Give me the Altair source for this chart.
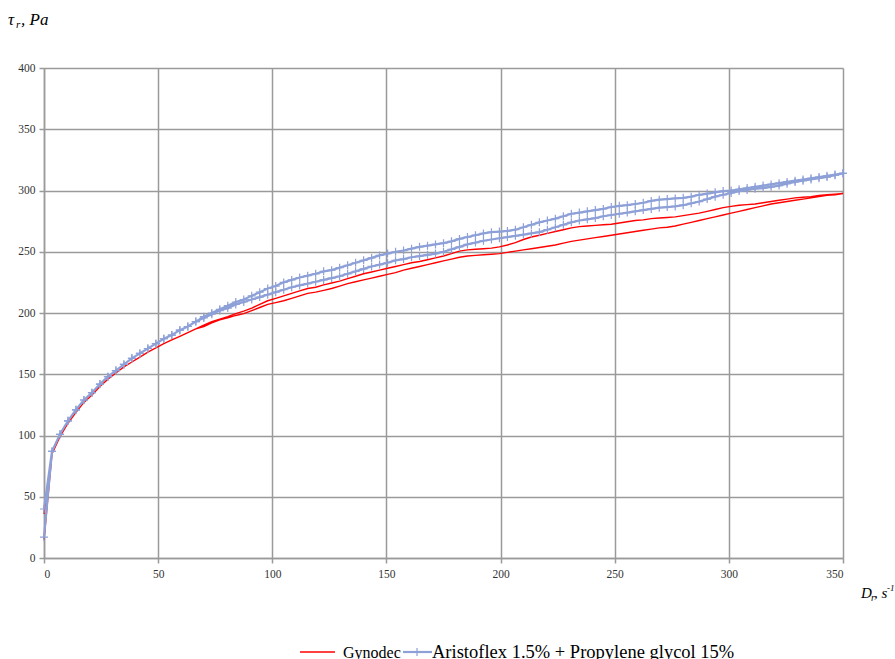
import altair as alt
import pandas as pd

# Shear rate D_r, s^-1
shear_rate = [
    0, 3.5, 7, 10.5, 14, 17.5, 21, 24.5, 28, 31.5,
    35, 38.5, 42, 45.5, 49, 52.5, 56, 59.5, 63, 66.5,
    70, 73.5, 77, 80.5, 84, 87.5, 91, 94.5, 98, 101.5,
    105, 108.5, 112, 115.5, 119, 122.5, 126, 129.5, 133, 136.5,
    140, 143.5, 147, 150.5, 154, 157.5, 161, 164.5, 168, 171.5,
    175, 178.5, 182, 185.5, 189, 192.5, 196, 199.5, 203, 206.5,
    210, 213.5, 217, 220.5, 224, 227.5, 231, 234.5, 238, 241.5,
    245, 248.5, 252, 255.5, 259, 262.5, 266, 269.5, 273, 276.5,
    280, 283.5, 287, 290.5, 294, 297.5, 301, 304.5, 308, 311.5,
    315, 318.5, 322, 325.5, 329, 332.5, 336, 339.5, 343, 346.5,
    350,
]

# Shear stress tau_r, Pa (ascending branch, then descending branch, both listed by shear rate)
gynodec_up = [
    15, 85, 99, 110, 119, 127, 133, 140, 146, 151,
    156, 160, 164, 168, 171.5, 175, 178, 181, 184, 187,
    190, 193, 195, 197, 199.5, 201.5, 204, 207, 210, 212,
    214, 216, 218, 220, 221, 223, 224.5, 226, 228, 230,
    232, 233.5, 235, 236.5, 238, 239.5, 241, 242, 243.5, 245,
    246.5, 248.5, 250.5, 251.5, 252, 252.5, 253, 254, 255.5, 257.5,
    260, 262, 263.5, 265, 266.5, 268, 269.5, 270.5, 271, 271.5,
    272, 272.5, 273.5, 274.5, 275.5, 276, 277, 277.5, 278, 278.5,
    279.5, 280.5, 281.5, 283, 284.5, 286, 287, 288, 288.5, 289,
    290, 291, 292, 293, 294, 294.5, 295, 296, 296.5, 297,
    297.5,
]
gynodec_down = [
    36, 85, 99, 110, 119, 127, 133, 140, 146, 151,
    156, 160, 164, 168, 171.5, 175, 178, 181, 184, 187,
    189, 192, 194.5, 196, 198, 199.5, 202, 204.5, 207, 208.5,
    210, 212, 214, 216, 217, 218.5, 220, 222, 224, 225.5,
    227, 228.5, 230, 231.5, 233, 235, 236.5, 238, 239.5, 241,
    242.5, 244, 245.5, 246.5, 247, 247.5, 248, 248.5, 249.5, 250.5,
    251.5, 252.5, 253.5, 254.5, 255.5, 257, 258.5, 259.5, 260.5, 261.5,
    262.5, 263.5, 264.5, 265.5, 266.5, 267.5, 268.5, 269.5, 270, 271,
    272.5, 274, 275.5, 277, 278.5, 280, 281.5, 283, 284.5, 286,
    287.5, 289, 290, 291, 292, 293, 294, 295, 296, 296.5,
    297.5,
]
aristoflex_up = [
    17, 87, 101, 112, 121, 129, 135, 142, 148, 153,
    158, 163, 167, 171, 175, 179, 182, 186, 189, 193,
    197, 200, 203, 206, 209, 211, 214, 217, 220, 222,
    225, 227, 229, 230.5, 232, 234, 235, 237, 239, 241,
    243, 245, 247, 248.5, 250, 251, 252.5, 254, 255, 256,
    257, 258.5, 260.5, 262, 263.5, 265, 266, 266.5, 267, 268,
    270, 272, 274, 275.5, 277, 279, 281, 282, 283, 284,
    285, 286.5, 287.5, 288, 289, 290, 291.5, 292.5, 293, 293.5,
    294, 295, 296.5, 297.5, 298.5, 299.5, 300, 301, 302, 303,
    304, 305, 306, 307, 308, 309, 310, 311, 312, 313,
    314,
]
aristoflex_down = [
    40, 87, 101, 112, 121, 129, 135, 142, 148, 153,
    158, 163, 167, 171, 175, 179, 182, 186, 189, 193,
    196, 199, 202, 204, 207, 209, 211, 213, 215, 217,
    219, 221, 222.5, 224, 225.5, 227, 228.5, 230, 232, 234,
    236, 238, 239.5, 241, 243, 244, 245.5, 246.5, 247.5, 248.5,
    250, 252, 254, 256, 257.5, 259, 260, 261, 262, 263,
    264, 265, 266, 268, 270, 272, 274, 275.5, 276.5, 277.5,
    279, 280, 281, 282, 283, 284, 285, 286, 286.5, 287,
    288, 289.5, 291, 293, 295, 296.5, 298, 299.5, 300.5, 301.5,
    302, 303, 304, 305.5, 307, 308, 309, 310, 311, 312.5,
    314,
]

series_names = ["Gynodec", "Aristoflex 1.5% + Propylene glycol 15%"]

rows = []
for name, up, down in [
    (series_names[0], gynodec_up, gynodec_down),
    (series_names[1], aristoflex_up, aristoflex_down),
]:
    k = 0
    for i in range(len(shear_rate)):
        rows.append({"series": name, "rate": shear_rate[i], "stress": up[i], "order": k})
        k += 1
    for i in range(len(shear_rate) - 1, -1, -1):
        rows.append({"series": name, "rate": shear_rate[i], "stress": down[i], "order": k})
        k += 1
df = pd.DataFrame(rows)

RED = "#ff0000"
BLUE = "#8da0d7"
GRID = "#9a9a9a"
SERIF = "Liberation Serif"
PLUS = "M-1,0L1,0M0,-1L0,1"

axis_style = dict(
    title=None, format="d", grid=True, gridColor=GRID, gridWidth=1.5, gridOpacity=1,
    domainColor=GRID, domainWidth=1.5, tickColor=GRID, tickWidth=1.5, tickSize=5,
    labelFont=SERIF, labelFontSize=11.5, labelColor="#333333",
)

x_enc = alt.X(
    "rate:Q",
    scale=alt.Scale(domain=[0, 350], nice=False, zero=False),
    axis=alt.Axis(values=[0, 50, 100, 150, 200, 250, 300, 350], labelPadding=5, **axis_style),
)
y_enc = alt.Y(
    "stress:Q",
    scale=alt.Scale(domain=[0, 400], nice=False),
    axis=alt.Axis(values=[0, 50, 100, 150, 200, 250, 300, 350, 400], labelPadding=4, **axis_style),
)

base = alt.Chart(df).encode(x=x_enc, y=y_enc, order="order:Q")

red_line = base.transform_filter(alt.datum.series == series_names[0]).mark_line(
    color=RED, strokeWidth=1.4
)
blue_line = base.transform_filter(alt.datum.series == series_names[1]).mark_line(
    color=BLUE, strokeWidth=2.2
)
blue_pts = base.transform_filter(alt.datum.series == series_names[1]).mark_point(
    shape=PLUS, size=64, filled=False, strokeWidth=1.2, color=BLUE, opacity=1
)

one = pd.DataFrame({"a": [0]})


def label(text, x, y, size, italic=True, align="left"):
    return alt.Chart(one).mark_text(
        text=text, font=SERIF, fontSize=size, fontStyle="italic" if italic else "normal",
        align=align, baseline="alphabetic", color="#000000",
    ).encode(x=alt.value(x), y=alt.value(y))


# axis titles (plot origin at page pixel 44, 68)
y_title = [
    label("τ", -36, -43, 17),
    label("r", -28, -40, 11),
    label(", Pa", -23, -43, 17),
]
x_title = [
    label("D", 817, 530, 15),
    label("r", 827, 533, 10),
    label(", s", 830, 530, 15),
    label("-1", 843, 523, 9),
]

# legend
leg_red = alt.Chart(one).mark_rule(color=RED, strokeWidth=1.5).encode(
    x=alt.value(256), x2=alt.value(291), y=alt.value(584)
)
leg_blue = alt.Chart(one).mark_rule(color=BLUE, strokeWidth=2.2).encode(
    x=alt.value(359), x2=alt.value(388), y=alt.value(584)
)
leg_plus = alt.Chart(one).mark_point(
    shape=PLUS, size=64, filled=False, strokeWidth=1.2, color=BLUE, opacity=1
).encode(x=alt.value(373), y=alt.value(584))
leg_t1 = label(series_names[0], 299, 590, 16, italic=False)
leg_t2 = label(series_names[1], 388, 590, 18.5, italic=False)

chart = alt.layer(
    red_line, blue_line, blue_pts,
    *y_title, *x_title,
    leg_red, leg_blue, leg_plus, leg_t1, leg_t2,
).properties(
    width=799, height=490,
    background="white",
    autosize=alt.AutoSizeParams(type="none"),
    padding={"left": 44, "top": 68, "right": 52, "bottom": 101},
).configure_view(
    stroke=None
)

chart.save("out.html", embed_options={"renderer": "svg", "actions": False})
